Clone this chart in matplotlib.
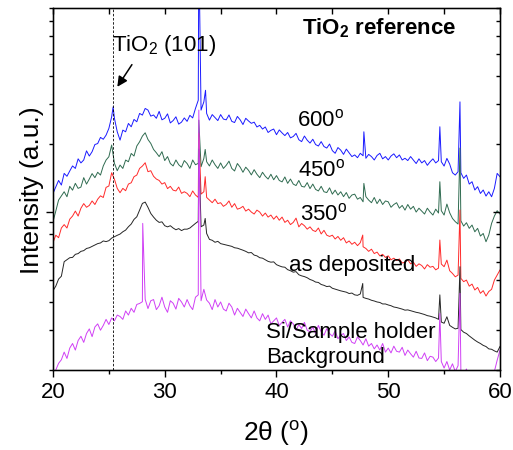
import numpy as np
import matplotlib
matplotlib.use('Agg')
import matplotlib.pyplot as plt
from matplotlib.ticker import MultipleLocator, LogLocator, NullFormatter

plt.rcParams['font.family'] = ['Liberation Sans', 'DejaVu Sans']
plt.rcParams['mathtext.fontset'] = 'custom'
plt.rcParams['mathtext.rm'] = 'Liberation Sans'
plt.rcParams['mathtext.it'] = 'Liberation Sans:italic'
plt.rcParams['mathtext.bf'] = 'Liberation Sans:bold'

# scan positions (2theta, degrees), 0.25 deg steps
two_theta = np.arange(20, 60.001, 0.25)

# 600 C anneal (one row per degree)
i_600 = [
    1209, 1290, 1380, 1317,
    1483, 1440, 1520, 1600,
    1560, 1720, 1650, 1700,
    1866, 1770, 1850, 1990,
    2010, 2140, 2100, 2190,
    2345, 2640, 2596, 2266,
    2081, 2305, 2266, 2467,
    2385, 2570, 2510, 2732,
    2686, 2875, 2827, 2658,
    2690, 2600, 2790, 2560,
    2600, 2720, 2480, 2540,
    2640, 2450, 2500, 2610,
    2520, 2680, 2610, 2875,
    3126, 2827, 3074, 2732,
    2552, 2700, 2620, 2540,
    2700, 2580, 2560, 2690,
    2520, 2490, 2650, 2560,
    2440, 2600, 2530, 2470,
    2500, 2380, 2420, 2330,
    2380, 2250, 2300, 2330,
    2200, 2310, 2240, 2180,
    2250, 2130, 2160, 2230,
    2090, 2050, 2170, 2080,
    2020, 2100, 1990, 1960,
    2050, 1950, 1920, 2000,
    1870, 1820, 1930, 1880,
    1800, 1900, 1830, 1760,
    1790, 1740, 1820, 1775,
    1730, 1800, 1760, 1700,
    1780, 1820, 1720, 1760,
    1700, 1770, 1810, 1740,
    1790, 1700, 1730, 1690,
    1760, 1700, 1640, 1720,
    1650, 1690, 1610, 1670,
    1720, 1650, 1690, 1670,
    1598, 1728, 1630, 1493,
    1458, 1509, 1493, 1410,
    1458, 1330, 1362, 1252,
    1295, 1209, 1252, 1177,
    1230, 1169, 1273, 1483,
    1434,
]
pk_600_x = [25.38, 33.05, 33.65, 47.82, 54.62, 56.42]
pk_600_y = [2920, 15000, 3460, 2266, 2385, 3074]

# 450 C anneal
i_450 = [
    907, 1010, 1130, 1180,
    1230, 1169, 1300, 1250,
    1340, 1273, 1290, 1420,
    1330, 1400, 1480, 1420,
    1500, 1458, 1600, 1699,
    1757, 1980, 1642, 1524,
    1614, 1560, 1699, 1670,
    1817, 1770, 1960, 2047,
    2168, 2243, 2095, 2013,
    1893, 1830, 1760, 1850,
    1690, 1760, 1640, 1600,
    1700, 1620, 1580, 1690,
    1640, 1560, 1700, 1620,
    1642, 1587, 1728, 1670,
    1600, 1700, 1620, 1560,
    1650, 1560, 1610, 1680,
    1560, 1520, 1640, 1580,
    1500, 1580, 1530, 1460,
    1540, 1470, 1420, 1500,
    1440, 1400, 1470, 1390,
    1450, 1380, 1360, 1430,
    1340, 1400, 1330, 1310,
    1380, 1300, 1290, 1350,
    1270, 1330, 1260, 1240,
    1300, 1230, 1220, 1280,
    1200, 1250, 1190, 1230,
    1170, 1220, 1150, 1190,
    1200, 1140, 1160, 1110,
    1170, 1130, 1100, 1160,
    1090, 1140, 1080, 1120,
    1110, 1050, 1080, 1100,
    1040, 1070, 1020, 1080,
    1030, 1060, 1000, 1040,
    1010, 980, 1040, 1000,
    970, 1030, 990, 1014,
    970, 1085, 993, 937,
    907, 885, 915, 867,
    897, 847, 876, 818,
    847, 783, 804, 739,
    791, 891, 960, 1014,
    980,
]
pk_450_x = [33.05, 33.62, 47.82, 54.62, 56.42]
pk_450_y = [2552, 1893, 1339, 1362, 1920]

# 350 C anneal
i_350 = [
    732, 790, 770, 850,
    880, 850, 930, 960,
    1010, 960, 1040, 1090,
    1050, 1070, 1120, 1080,
    1140, 1180, 1160, 1286,
    1304, 1493, 1396, 1273,
    1218, 1273, 1243, 1330,
    1348, 1434, 1458, 1560,
    1598, 1653, 1509, 1524,
    1440, 1400, 1380, 1330,
    1350, 1270, 1300, 1250,
    1240, 1290, 1210, 1230,
    1210, 1170, 1240, 1190,
    1161, 1201, 1230, 1161,
    1130, 1100, 1140, 1090,
    1100, 1060, 1080, 1120,
    1050, 1090, 1030, 1040,
    1060, 1010, 1030, 1000,
    980, 1020, 1000, 960,
    990, 950, 970, 930,
    960, 920, 950, 900,
    920, 880, 900, 940,
    860, 890, 870, 840,
    860, 830, 820, 850,
    800, 830, 790, 780,
    790, 760, 780, 750,
    770, 730, 745, 720,
    735, 710, 732, 702,
    690, 670, 685, 655,
    665, 640, 650, 630,
    640, 615, 625, 610,
    620, 595, 600, 615,
    590, 600, 575, 590,
    580, 560, 585, 570,
    575, 555, 565, 589,
    573, 613, 550, 535,
    517, 526, 509, 492,
    500, 470, 480, 452,
    464, 437, 449, 425,
    445, 455, 500, 526,
    554,
]
pk_350_x = [33.05, 33.62, 47.72, 54.62, 56.42]
pk_350_y = [2228, 1434, 791, 752, 1021]

# as deposited
i_asdep = [
    449, 470, 505, 520,
    603, 615, 628, 630,
    650, 655, 670, 675,
    690, 695, 705, 715,
    725, 730, 745, 740,
    747, 767, 778, 789,
    799, 818, 832, 861,
    885, 928, 953, 1021,
    1092, 1107, 1049, 986,
    950, 920, 900, 905,
    870, 860, 870, 850,
    835, 845, 828, 840,
    840, 850, 870, 891,
    910, 861, 876, 804,
    757, 750, 735, 742,
    725, 720, 715, 710,
    705, 695, 692, 685,
    678, 670, 660, 662,
    645, 640, 628, 625,
    615, 605, 600, 602,
    585, 578, 572, 570,
    556, 550, 542, 545,
    528, 522, 518, 512,
    503, 498, 490, 488,
    478, 474, 468, 470,
    460, 456, 452, 448,
    445, 442, 436, 438,
    430, 428, 434, 419,
    415, 412, 407, 404,
    400, 398, 392, 392,
    388, 385, 380, 378,
    375, 372, 368, 369,
    366, 363, 360, 358,
    355, 352, 348, 346,
    343, 340, 335, 326,
    322, 344, 315, 309,
    304, 306, 302, 294,
    290, 283, 277, 271,
    266, 262, 257, 254,
    248, 247, 243, 240,
    254,
]
pk_asdep_x = [33.05, 33.62, 47.72, 54.62, 56.42]
pk_asdep_y = [1900, 937, 483, 430, 573]

# Si / sample holder background
i_bg = [
    183, 200, 214, 222,
    240, 225, 250, 262,
    245, 270, 282, 265,
    290, 304, 281, 310,
    320, 300, 315, 335,
    318, 340, 330, 350,
    345, 335, 365, 350,
    375, 360, 390, 394,
    401, 411, 374, 405,
    410, 370, 385, 420,
    380, 360, 405, 395,
    372, 415, 400, 380,
    410, 385, 370, 420,
    430, 405, 455, 408,
    395, 370, 410, 380,
    400, 372, 365, 395,
    380, 350, 375, 360,
    345, 372, 355, 340,
    365, 340, 330, 355,
    335, 350, 320, 330,
    340, 315, 325, 335,
    310, 330, 320, 300,
    318, 305, 325, 300,
    295, 310, 290, 315,
    295, 285, 305, 290,
    282, 298, 275, 285,
    290, 270, 280, 265,
    262, 280, 270, 258,
    275, 255, 262, 248,
    258, 245, 262, 240,
    250, 238, 255, 242,
    240, 252, 232, 245,
    236, 228, 242, 226,
    225, 238, 220, 230,
    228, 218, 226, 218,
    204, 218, 200, 213,
    197, 209, 200, 190,
    202, 183, 193, 177,
    187, 174, 183, 175,
    187, 180, 197, 221,
    245,
]
pk_bg_x = [28.03, 33.05, 54.62, 56.42]
pk_bg_y = [891, 2827, 356, 437]


def with_peaks(base, peak_x, peak_y):
    x = np.concatenate([two_theta, peak_x])
    y = np.concatenate([base, peak_y])
    order = np.argsort(x)
    return x[order], y[order]


fig = plt.figure(figsize=(5.13, 4.5), dpi=100)
ax = fig.add_axes([0.1033, 0.1778, 0.8713, 0.8044])

series = [
    (i_600, pk_600_x, pk_600_y, '#1a1aff'),
    (i_450, pk_450_x, pk_450_y, '#2f6b50'),
    (i_350, pk_350_x, pk_350_y, '#ff2a2a'),
    (i_asdep, pk_asdep_x, pk_asdep_y, '#262626'),
    (i_bg, pk_bg_x, pk_bg_y, '#d040f5'),
]
for base, px, py, col in series:
    x, y = with_peaks(base, px, py)
    ax.plot(x, y, color=col, lw=0.7)

ax.axvline(25.37, color='k', ls=(0, (3, 2)), lw=0.6)

ax.set_yscale('log')
ax.set_xlim(20, 60)
ax.set_ylim(200, 8000)
ax.xaxis.set_major_locator(MultipleLocator(10))
ax.xaxis.set_minor_locator(MultipleLocator(5))
ax.yaxis.set_major_locator(LogLocator(base=10))
ax.yaxis.set_minor_locator(LogLocator(base=10, subs=np.arange(2, 10)))
ax.yaxis.set_major_formatter(NullFormatter())
ax.yaxis.set_minor_formatter(NullFormatter())
ax.tick_params(which='both', direction='out', width=1, labelsize=16, pad=4)
ax.tick_params(which='major', length=5)
ax.tick_params(which='minor', length=3)
for s in ax.spines.values():
    s.set_linewidth(1)

# mirrored ticks on top and right, pointing inward
top = ax.twiny()
top.set_xlim(ax.get_xlim())
top.xaxis.set_major_locator(MultipleLocator(5))
top.tick_params(direction='in', length=4, width=1, labeltop=False)
right = ax.twinx()
right.set_yscale('log')
right.set_ylim(ax.get_ylim())
right.yaxis.set_major_locator(LogLocator(base=10))
right.yaxis.set_minor_locator(LogLocator(base=10, subs=np.arange(2, 10)))
right.yaxis.set_major_formatter(NullFormatter())
right.yaxis.set_minor_formatter(NullFormatter())
right.tick_params(which='both', direction='in', width=1)
right.tick_params(which='major', length=5)
right.tick_params(which='minor', length=3)

fig.text(0.062, 0.578, 'Intensity (a.u.)', rotation=90, ha='center', va='center', fontsize=19)
fig.text(0.538, 0.036, r'2θ ($^{\mathrm{o}}$)', ha='center', va='center', fontsize=19)

fs = 16
ax.text(25.3, 5480, r'TiO$_2$ (101)', fontsize=fs, va='center', ha='left')
ax.text(42.3, 6520, r'TiO$_\mathbf{2}$ reference', fontsize=fs, fontweight='bold', va='center', ha='left')
ax.annotate('', xy=(25.62, 3500), xytext=(27.2, 4600),
            arrowprops=dict(arrowstyle='-|>', color='k', lw=1.1, mutation_scale=15))
ax.text(41.8, 2553, r'600$^{\mathrm{o}}$', fontsize=fs, va='center', ha='left')
ax.text(41.9, 1534, r'450$^{\mathrm{o}}$', fontsize=fs, va='center', ha='left')
ax.text(42.1, 980, r'350$^{\mathrm{o}}$', fontsize=fs, va='center', ha='left')
ax.text(41.1, 583, 'as deposited', fontsize=fs, va='center', ha='left')
ax.text(39.05, 292, 'Si/Sample holder', fontsize=fs, va='center', ha='left')
ax.text(39.05, 226, 'Background', fontsize=fs, va='center', ha='left')

fig.savefig('out.png', dpi=100)
